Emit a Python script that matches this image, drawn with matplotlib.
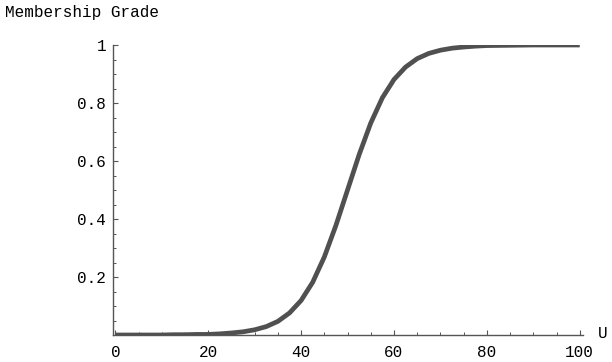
import numpy as np
import matplotlib
matplotlib.use("Agg")
import matplotlib.pyplot as plt
from matplotlib.ticker import MultipleLocator, FixedLocator

# membership grade, every 2.5 units of U
u = [0, 2.5, 5, 7.5, 10, 12.5, 15, 17.5, 20, 22.5, 25, 27.5, 30, 32.5, 35,
     37.5, 40, 42.5, 45, 47.5, 50, 52.5, 55, 57.5, 60, 62.5, 65, 67.5, 70,
     72.5, 75, 77.5, 80, 85, 90, 95, 100]
grade = [0.000, 0.000, 0.000, 0.000, 0.000, 0.001, 0.001, 0.002, 0.002,
         0.004, 0.007, 0.011, 0.018, 0.029, 0.047, 0.076, 0.119, 0.182,
         0.269, 0.378, 0.500, 0.622, 0.731, 0.818, 0.881, 0.924, 0.953,
         0.971, 0.982, 0.989, 0.993, 0.996, 0.998, 0.999, 1.000, 1.000, 1.000]

xticks = [0, 20, 40, 60, 80, 100]
yticks = [0.2, 0.4, 0.6, 0.8, 1.0]
ylabels = ["0.2", "0.4", "0.6", "0.8", "1"]

plt.rcParams['font.family'] = ['Liberation Mono', 'DejaVu Sans Mono']
fs = 11.5
axc = '#555555'

fig = plt.figure(figsize=(6.12, 3.62), dpi=100)
ax = fig.add_axes([113/612, 27/362, (583-113)/612, (317-27)/362])

ax.plot(u, grade, color='#505050', lw=3.4, solid_capstyle='butt')

ax.set_xlim(-0.5, 100.7)
ax.set_ylim(0, 1.0)

for s in ['top', 'right']:
    ax.spines[s].set_visible(False)
for s in ['left', 'bottom']:
    ax.spines[s].set_color(axc)
    ax.spines[s].set_linewidth(1.0)

ax.xaxis.set_major_locator(FixedLocator(xticks))
ax.xaxis.set_minor_locator(MultipleLocator(5))
ax.yaxis.set_major_locator(FixedLocator(yticks))
ax.yaxis.set_minor_locator(MultipleLocator(0.05))
ax.set_xticklabels([str(t) for t in xticks])
ax.set_yticklabels(ylabels)

ax.tick_params(which='major', direction='in', length=3.5, width=0.8,
               color=axc, labelsize=fs)
ax.tick_params(which='minor', direction='in', length=2.2, width=0.7, color=axc)
ax.tick_params(axis='x', which='major', pad=7)
ax.tick_params(axis='y', which='major', pad=5)

fig.text(5/612, 1 - 12/362, "Membership Grade", fontsize=fs,
         ha='left', va='center')
fig.text(598/612, 1 - 333/362, "U", fontsize=fs, ha='left', va='center')

plt.savefig("out.png", dpi=100)
